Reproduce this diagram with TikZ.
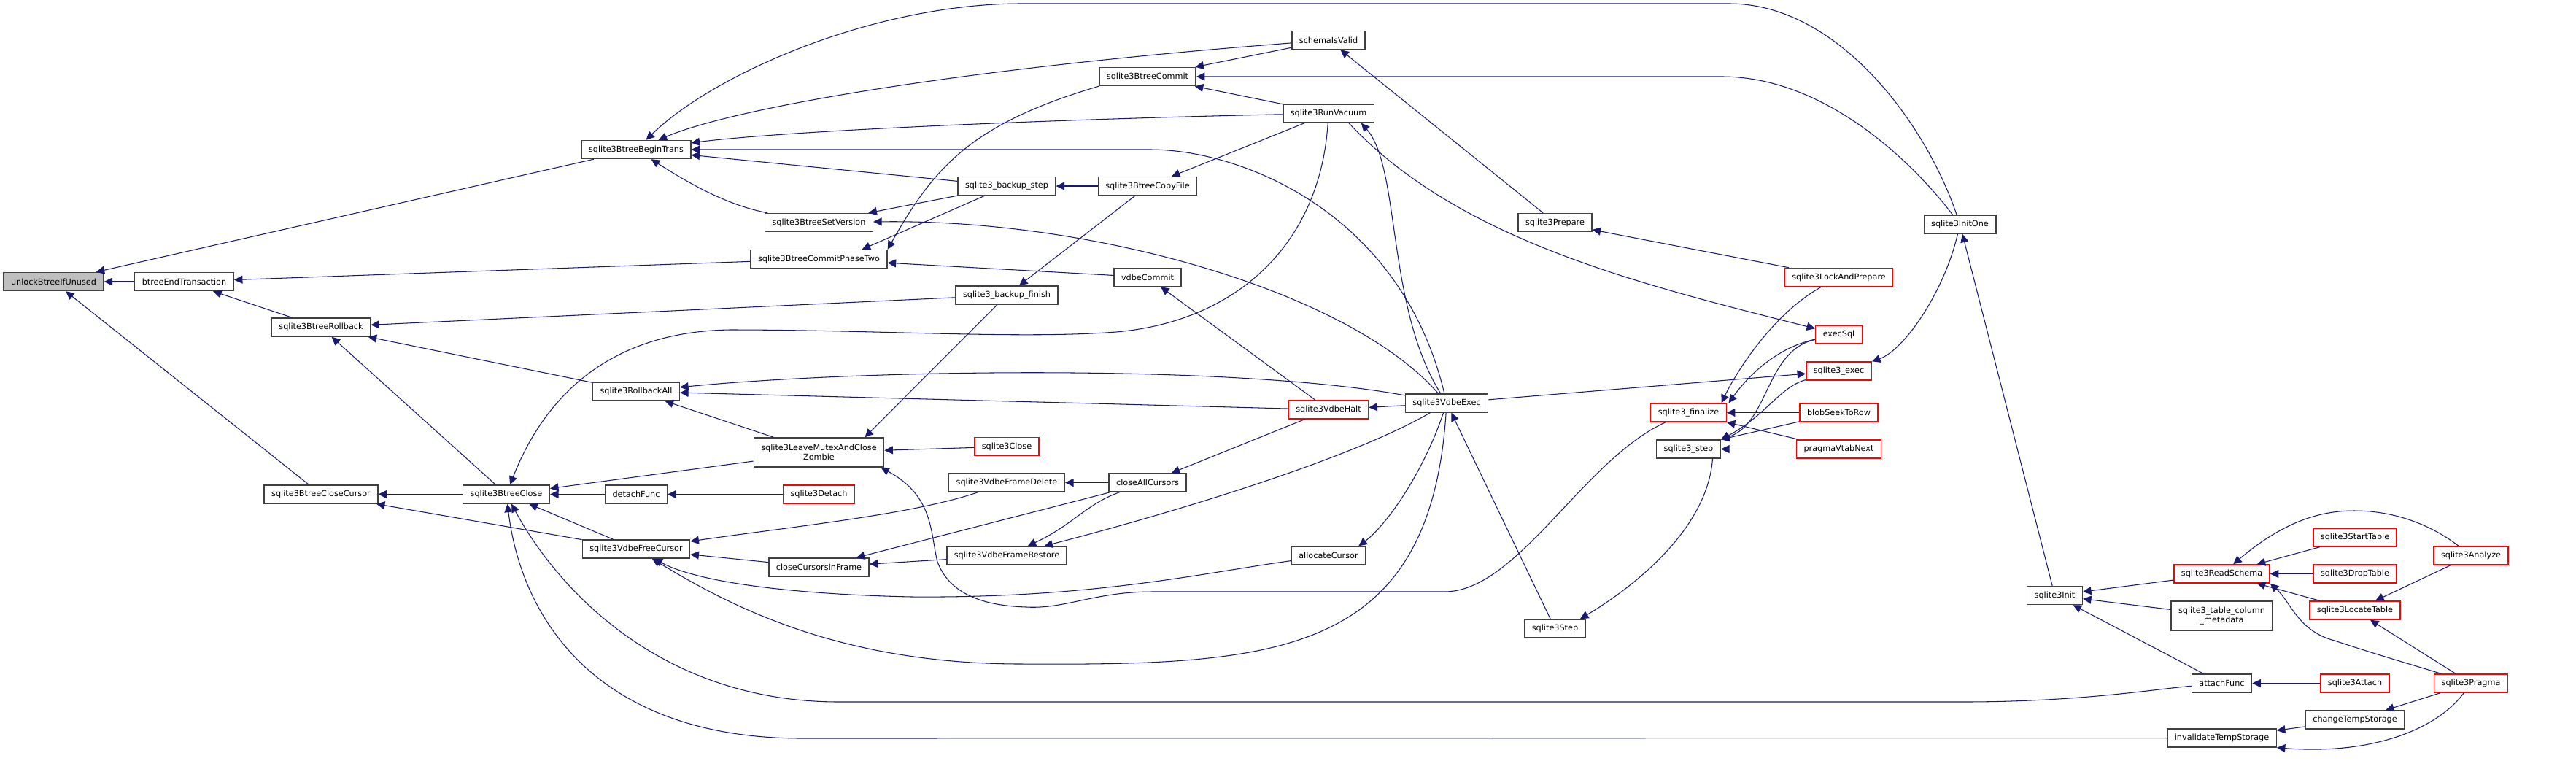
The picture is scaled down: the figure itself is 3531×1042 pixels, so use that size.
\documentclass[tikz,border=0pt]{standalone}
\usepackage{fontspec}
\setmainfont{DejaVu Sans}
\usetikzlibrary{arrows.meta,calc}
\definecolor{edgeblue}{HTML}{191970}
\definecolor{rootgray}{HTML}{BFBFBF}
\begin{document}
\begin{tikzpicture}[x=0.02cm,y=-0.02cm,>={Triangle[length=0.23cm,width=0.22cm]},
fn/.style={draw=black!75,fill=white,line width=0.8pt,minimum height=0.5cm,inner xsep=0.2cm,inner ysep=0pt,align=center,font=\fontsize{6.4}{7.6}\selectfont},
fnroot/.style={fn,fill=rootgray},fnred/.style={fn,draw=red},calls/.style={<-,edgeblue,line width=0.6pt}]
\useasboundingbox (0,0) rectangle (3531,1042);
\node[fnroot] (unlock) at (73.5,386) {unlockBtreeIfUnused};
\node[fn] (btreeEnd) at (252.5,386) {btreeEndTransaction};
\node[fn] (rollback) at (440,448.5) {sqlite3BtreeRollback};\node[fn] (closeCursor) at (440,677.5) {sqlite3BtreeCloseCursor};
\node[fn] (btreeClose) at (694,677.5) {sqlite3BtreeClose};
\node[fn] (beginTrans) at (872,205) {sqlite3BtreeBeginTrans};\node[fn] (rollbackAll) at (872,536.5) {sqlite3RollbackAll};
\node[fn] (detachFunc) at (872,677.5) {detachFunc};\node[fn] (freeCursor) at (872,752.5) {sqlite3VdbeFreeCursor};
\node[fn] (setVersion) at (1122.5,305) {sqlite3BtreeSetVersion};\node[fn] (commitTwo) at (1122.5,355) {sqlite3BtreeCommitPhaseTwo};
\node[fn,minimum height=0.8cm] (leaveMutex) at (1122.5,620) {sqlite3LeaveMutexAndClose\\Zombie};
\node[fnred] (detach) at (1122.5,677.5) {sqlite3Detach};\node[fn] (closeInFrame) at (1122.5,777.5) {closeCursorsInFrame};
\node[fn] (backupStep) at (1380,255) {sqlite3\_backup\_step};\node[fn] (backupFinish) at (1380,404.5) {sqlite3\_backup\_finish};
\node[fnred] (close) at (1380,612) {sqlite3Close};\node[fn] (frameDelete) at (1380,661.5) {sqlite3VdbeFrameDelete};
\node[fn] (frameRestore) at (1380,761.5) {sqlite3VdbeFrameRestore};
\node[fn] (commit) at (1573,105) {sqlite3BtreeCommit};\node[fn] (copyFile) at (1573,255) {sqlite3BtreeCopyFile};
\node[fn] (vdbeCommit) at (1573,380) {vdbeCommit};\node[fn] (closeAll) at (1573,661.5) {closeAllCursors};
\node[fn] (schemaValid) at (1821,55) {schemaIsValid};\node[fn] (runVacuum) at (1821,155.5) {sqlite3RunVacuum};
\node[fnred] (vdbeHalt) at (1821,561.5) {sqlite3VdbeHalt};\node[fn] (allocCursor) at (1821,761.5) {allocateCursor};
\node[fn] (vdbeExec) at (1983,552.5) {sqlite3VdbeExec};
\node[fn] (prepare) at (2131.5,305) {sqlite3Prepare};\node[fn] (step3) at (2131.5,861.5) {sqlite3Step};
\node[fnred] (finalize) at (2314.5,565.5) {sqlite3\_finalize};\node[fn] (step) at (2314.5,615.5) {sqlite3\_step};
\node[fnred] (lockPrepare) at (2520.5,380) {sqlite3LockAndPrepare};\node[fnred] (execSql) at (2520.5,458.5) {execSql};
\node[fnred] (exec) at (2520.5,508.5) {sqlite3\_exec};\node[fnred] (blobSeek) at (2520.5,565.5) {blobSeekToRow};
\node[fnred] (vtabNext) at (2520.5,615.5) {pragmaVtabNext};
\node[fn] (initOne) at (2686.5,307.5) {sqlite3InitOne};\node[fn] (init) at (2816.5,816) {sqlite3Init};
\node[fnred] (readSchema) at (3045.5,786.5) {sqlite3ReadSchema};
\node[fn,minimum height=0.8cm] (tableMeta) at (3045.5,844) {sqlite3\_table\_column\\\_metadata};
\node[fn] (attachFunc) at (3045.5,936.5) {attachFunc};\node[fn] (invalidTemp) at (3045.5,1011.5) {invalidateTempStorage};
\node[fnred] (startTable) at (3228,736.5) {sqlite3StartTable};\node[fnred] (dropTable) at (3228,786.5) {sqlite3DropTable};
\node[fnred] (locateTable) at (3228,836.5) {sqlite3LocateTable};\node[fnred] (attach) at (3228,936.5) {sqlite3Attach};
\node[fn] (changeTemp) at (3228,986.5) {changeTempStorage};
\node[fnred] (analyze) at (3387,761.5) {sqlite3Analyze};\node[fnred] (pragma) at (3387,936.5) {sqlite3Pragma};
\draw[calls] (unlock) -- (beginTrans);\draw[calls] (unlock) -- (btreeEnd);\draw[calls] (unlock) -- (closeCursor);
\draw[calls] (btreeEnd) -- (commitTwo);\draw[calls] (btreeEnd) -- (rollback);
\draw[calls] (rollback) -- (rollbackAll);\draw[calls] (rollback) -- (backupFinish);\draw[calls] (rollback) -- (btreeClose);
\draw[calls] (closeCursor) -- (btreeClose);\draw[calls] (closeCursor) -- (freeCursor);
\draw[calls] (beginTrans) .. controls (980,100) and (1200,5) .. (1400,5) -- (2370,5) .. controls (2520,5) and (2640,170) .. (initOne);
\draw[calls] (beginTrans) .. controls (1000,150) and (1300,95) .. (schemaValid);
\draw[calls] (beginTrans) .. controls (1100,177) and (1500,162) .. (runVacuum);
\draw[calls] (beginTrans) -- (1577,205) .. controls (1700,205) and (1920,290) .. (vdbeExec);
\draw[calls] (beginTrans) -- (backupStep);
\draw[calls] (beginTrans) .. controls (950,255) and (1000,282) .. (setVersion);
\draw[calls] (setVersion) -- (backupStep);
\draw[calls] (setVersion) .. controls (1500,300) and (1850,400) .. (vdbeExec);
\draw[calls] (commitTwo.north east) .. controls (1280,230) and (1330,170) .. (commit.south west);
\draw[calls] ($(commitTwo.north east)+(-35,0)$) -- (backupStep);\draw[calls] (commitTwo) -- (vdbeCommit);
\draw[calls] (commit) -- (schemaValid);\draw[calls] (commit) -- (runVacuum);
\draw[calls] (commit) -- (2360,105) .. controls (2500,105) and (2620,220) .. (initOne);
\draw[calls] (backupStep) -- (copyFile);\draw[calls] (backupFinish) -- (copyFile);\draw[calls] (copyFile) -- (runVacuum);
\draw[calls] (vdbeCommit) -- (vdbeHalt);\draw[calls] (schemaValid) -- (prepare);\draw[calls] (prepare) -- (lockPrepare);
\draw[calls] ($(runVacuum.south east)+(-18,0)$) .. controls (1920,230) and (1900,420) .. (vdbeExec);
\draw[calls] (btreeClose) .. controls (740,560) and (820,455) .. (1000,452) .. controls (1200,452) and (1400,465) .. (1530,455) .. controls (1700,440) and (1810,330) .. (runVacuum);
\draw[calls] (btreeClose) -- (leaveMutex);\draw[calls] (btreeClose) -- (detachFunc);\draw[calls] (btreeClose) -- (freeCursor);
\draw[calls] (btreeClose) .. controls (760,800) and (900,962) .. (1150,962) -- (2690,962) .. controls (2850,962) and (2950,945) .. (attachFunc);
\draw[calls] (btreeClose) .. controls (715,850) and (820,1012) .. (1100,1012) -- (invalidTemp);
\draw[calls] (detachFunc) -- (detach);
\draw[calls] (rollbackAll) -- (leaveMutex);\draw[calls] (rollbackAll) -- (vdbeHalt);
\draw[calls] (rollbackAll) .. controls (1200,505) and (1700,500) .. (vdbeExec);
\draw[calls] (leaveMutex) -- (close);\draw[calls] ($(leaveMutex.north)+(63,0)$) -- (backupFinish);
\draw[calls] ($(leaveMutex.south east)+(-5,0)$) .. controls (1280,680) and (1275,730) .. (1285,770) .. controls (1300,810) and (1340,830) .. (1407,832) .. controls (1460,835) and (1500,811) .. (1580,811) -- (1980,811) .. controls (2080,811) and (2170,630) .. ($(finalize.south west)+(21,0)$);
\draw[calls] (freeCursor) .. controls (1100,720) and (1250,705) .. (frameDelete);\draw[calls] (freeCursor) -- (closeInFrame);
\draw[calls] (freeCursor) .. controls (960,800) and (1100,815) .. (1250,818) .. controls (1500,820) and (1650,785) .. (allocCursor);
\draw[calls] (freeCursor) .. controls (1000,830) and (1150,910) .. (1400,910) .. controls (1750,912) and (1960,900) .. (vdbeExec);
\draw[calls] (closeInFrame) -- (closeAll);\draw[calls] (closeInFrame) -- (frameRestore);\draw[calls] (frameDelete) -- (closeAll);
\draw[calls] (frameRestore) .. controls (1470,720) and (1490,690) .. (closeAll);
\draw[calls] (frameRestore) .. controls (1600,705) and (1850,630) .. (vdbeExec);
\draw[calls] (closeAll) -- (vdbeHalt);\draw[calls] (vdbeHalt) -- (vdbeExec);
\draw[calls] ($(allocCursor.north east)+(-10,0)$) .. controls (1900,720) and (1950,650) .. (vdbeExec);
\draw[calls] (vdbeExec) -- (step3);\draw[calls] (exec) -- (vdbeExec);
\draw[calls] ($(step3.north east)+(-8,0)$) .. controls (2230,810) and (2340,730) .. ($(step.south)+(33,0)$);
\draw[calls] (exec.north east) .. controls (2610,480) and (2665,400) .. (initOne);
\draw[calls] (initOne) -- (init);
\draw[calls] (execSql) .. controls (2250,390) and (2000,330) .. ($(runVacuum.south east)+(-35,0)$);
\draw[calls] ($(finalize.north)+(45,0)$) .. controls (2380,510) and (2430,430) .. (lockPrepare);
\draw[calls] ($(finalize.north)+(55,0)$) .. controls (2400,510) and (2440,475) .. (execSql);
\draw[calls] (step.north east) .. controls (2425,580) and (2420,480) .. (execSql);
\draw[calls] (step.north east) .. controls (2420,570) and (2440,530) .. (exec);
\draw[calls] (finalize) -- (blobSeek);\draw[calls] (finalize.south east) -- (vtabNext);
\draw[calls] (step.north east) -- (blobSeek);\draw[calls] (step) -- (vtabNext);
\draw[calls] (init) -- (readSchema);\draw[calls] (init) -- (tableMeta);\draw[calls] (init) -- (attachFunc);
\draw[calls] (readSchema) .. controls (3130,715) and (3180,700) .. (3227,700) .. controls (3290,700) and (3340,725) .. (analyze);
\draw[calls] (readSchema) -- (startTable);\draw[calls] (readSchema) -- (dropTable);\draw[calls] (readSchema) -- (locateTable);
\draw[calls] (readSchema.south east) .. controls (3140,825) and (3150,865) .. (3200,878) .. controls (3260,898) and (3320,915) .. (pragma);
\draw[calls] (locateTable) -- (analyze);\draw[calls] (locateTable) -- (pragma);\draw[calls] (attachFunc) -- (attach);
\draw[calls] (changeTemp) -- (pragma);\draw[calls] (invalidTemp) -- (changeTemp);
\draw[calls] (invalidTemp.south east) .. controls (3250,1035) and (3340,1000) .. (pragma);
\end{tikzpicture}
\end{document}
